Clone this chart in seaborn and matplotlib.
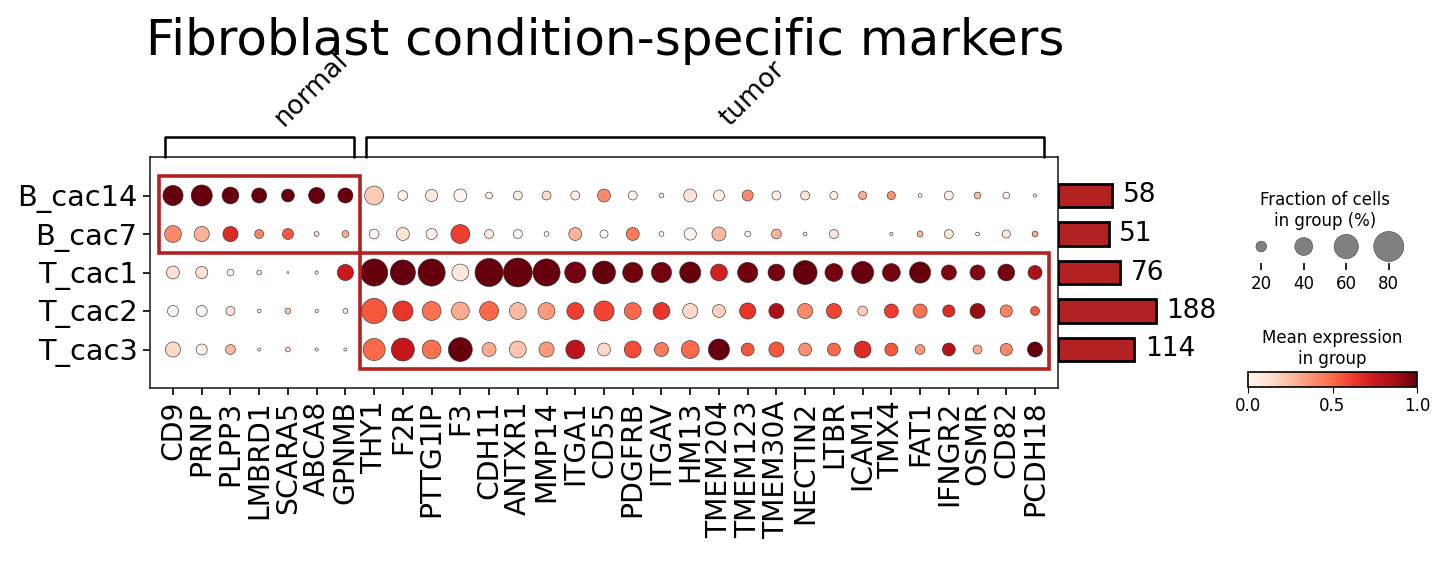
import numpy as np
import pandas as pd
import seaborn as sb
import matplotlib.pyplot as plt
from matplotlib.patches import Rectangle
from matplotlib.cm import ScalarMappable
from matplotlib.colors import Normalize

sb.set_style("white", rc={"text.color": "black", "axes.labelcolor": "black",
                          "xtick.color": "black", "ytick.color": "black",
                          "axes.edgecolor": "black"})
plt.rcParams["font.family"] = ["DejaVu Sans"]

# marker genes, grouped by condition
normal_genes = ["CD9", "PRNP", "PLPP3", "LMBRD1", "SCARA5", "ABCA8", "GPNMB"]
tumor_genes = ["THY1", "F2R", "PTTG1IP", "F3", "CDH11", "ANTXR1", "MMP14", "ITGA1",
               "CD55", "PDGFRB", "ITGAV", "HM13", "TMEM204", "TMEM123", "TMEM30A",
               "NECTIN2", "LTBR", "ICAM1", "TMX4", "FAT1", "IFNGR2", "OSMR", "CD82",
               "PCDH18"]
genes = normal_genes + tumor_genes

groups = ["B_cac14", "B_cac7", "T_cac1", "T_cac2", "T_cac3"]
cell_counts = [58, 51, 76, 188, 114]

# fraction of cells expressing (%) per group
frac_B_cac14 = [47, 50, 37, 32, 26, 35, 32, 43, 18, 24, 26, 11, 16, 16, 16, 26,
                16, 7, 26, 21, 21, 16, 16, 14, 14, 14, 5, 16, 11, 11, 4]
frac_B_cac7 = [37, 32, 32, 16, 21, 7, 11, 18, 26, 21, 43, 16, 16, 7, 26, 14,
               26, 7, 24, 29, 9, 18, 5, 16, 0, 4, 9, 16, 5, 14, 9]
frac_T_cac1 = [26, 24, 11, 7, 2, 4, 35, 70, 63, 70, 37, 73, 76, 70, 50, 56,
               47, 47, 50, 37, 47, 37, 59, 40, 53, 40, 50, 32, 32, 37, 29]
frac_T_cac2 = [21, 21, 16, 5, 9, 4, 7, 63, 47, 43, 40, 43, 37, 37, 37, 47,
               37, 37, 32, 26, 35, 32, 32, 32, 18, 29, 29, 24, 32, 24, 16]
frac_T_cac3 = [32, 21, 18, 4, 7, 4, 4, 53, 56, 43, 59, 29, 37, 32, 43, 26,
               37, 29, 40, 50, 26, 32, 26, 26, 37, 26, 18, 26, 16, 24, 32]

# scaled mean expression (0-1) per group
expr_B_cac14 = [1.0, 1.0, 1.0, 1.0, 1.0, 1.0, 1.0, 0.2, 0.02, 0.08, 0.0, 0.03,
                0.05, 0.15, 0.05, 0.4, 0.0, 0.03, 0.1, 0.03, 0.4, 0.03, 0.1, 0.03,
                0.3, 0.38, 0.0, 0.03, 0.25, 0.03, 0.05]
expr_B_cac7 = [0.4, 0.28, 0.68, 0.42, 0.55, 0.12, 0.3, 0.0, 0.1, 0.03, 0.62, 0.06,
               0.0, 0.0, 0.28, 0.0, 0.45, 0.0, 0.0, 0.25, 0.0, 0.28, 0.0, 0.08,
               0.0, 0.1, 0.25, 0.1, 0.0, 0.08, 0.3]
expr_T_cac1 = [0.12, 0.12, 0.03, 0.1, 0.0, 0.05, 0.75, 1.0, 1.0, 1.0, 0.08, 1.0,
               1.0, 1.0, 0.97, 1.0, 0.98, 0.98, 1.0, 0.72, 0.98, 0.97, 1.0, 0.97,
               1.0, 0.97, 1.0, 0.95, 0.95, 0.97, 0.85]
expr_T_cac2 = [0.0, 0.0, 0.12, 0.05, 0.22, 0.05, 0.05, 0.55, 0.65, 0.48, 0.3, 0.5,
               0.25, 0.35, 0.62, 0.6, 0.5, 0.65, 0.15, 0.18, 0.65, 0.85, 0.4, 0.6,
               0.2, 0.62, 0.48, 0.68, 0.9, 0.42, 0.55]
expr_T_cac3 = [0.15, 0.03, 0.25, 0.0, 0.15, 0.0, 0.0, 0.5, 0.78, 0.48, 1.0, 0.3,
               0.22, 0.35, 0.8, 0.15, 0.58, 0.45, 0.5, 1.0, 0.55, 0.55, 0.38, 0.5,
               0.68, 0.55, 0.35, 0.82, 0.3, 0.4, 1.0]

legend_fracs = [20, 40, 60, 80]

W, H = 1445, 561
MAX_S = 653  # marker area (pt^2) for a fraction of 1.0


def box(l, t, r, b):
    return [l / W, 1 - b / H, (r - l) / W, (b - t) / H]


frac_rows = [frac_B_cac14, frac_B_cac7, frac_T_cac1, frac_T_cac2, frac_T_cac3]
expr_rows = [expr_B_cac14, expr_B_cac7, expr_T_cac1, expr_T_cac2, expr_T_cac3]
records = []
for gi, (fr, ex) in enumerate(zip(frac_rows, expr_rows)):
    for xi in range(len(genes)):
        records.append({"x": xi, "y": gi, "expr": ex[xi],
                        "size": (fr[xi] / 100) ** 1.5})
df = pd.DataFrame(records)

fig = plt.figure(figsize=(W / 100, H / 100), dpi=100)
ax = fig.add_axes(box(150, 157, 1058, 388))
sb.scatterplot(data=df, x="x", y="y", hue="expr", size="size", palette="Reds",
               hue_norm=(0, 1), sizes=(0, MAX_S), size_norm=(0, 1),
               edgecolor="0.15", linewidth=0.4, legend=False, ax=ax)
ax.set_xlim(-0.8, len(genes) - 0.2)
ax.set_ylim(len(groups), -1)
ax.set_xticks(range(len(genes)))
ax.set_xticklabels(genes, rotation=90, fontsize=20.3)
ax.set_yticks(range(len(groups)))
ax.set_yticklabels(groups, fontsize=20.7)
ax.set_xlabel("")
ax.set_ylabel("")
ax.tick_params(length=5, width=1.2, pad=4, bottom=True, left=True,
               direction="out")
for s in ax.spines.values():
    s.set_linewidth(1.2)
    s.set_color("0.15")

# highlight boxes
n_norm = len(normal_genes)
ax.add_patch(Rectangle((-0.5, -0.5), n_norm, 2, fill=False, ec="firebrick",
                       lw=2.6, clip_on=False, zorder=5))
ax.add_patch(Rectangle((n_norm - 0.5, 1.5), len(tumor_genes), 3, fill=False,
                       ec="firebrick", lw=2.6, clip_on=False, zorder=5))

# gene group brackets
gax = fig.add_axes(box(150, 128, 1058, 157), sharex=ax)
gax.set_ylim(0, 1)
gax.axis("off")
for label, start, end in [("normal", 0, n_norm - 1),
                          ("tumor", n_norm, len(genes) - 1)]:
    l, r = start - 0.28, end + 0.3
    gax.plot([l, l, r, r], [0, 0.68, 0.68, 0], color="black", lw=1.8,
             clip_on=False)
    gax.text((l + r) / 2 + 0.35, 0.9, label, rotation=45, ha="left",
             va="bottom", fontsize=19)

# totals bar plot
bax = fig.add_axes(box(1058, 157, 1230, 388))
sb.barplot(x=cell_counts, y=groups, orient="h", color="firebrick",
           saturation=1, edgecolor="black", linewidth=2, width=0.62, ax=bax)
bax.set_xscale("function", functions=(lambda v: np.sqrt(np.clip(v, 0, None)),
                                      lambda v: np.square(v)))
bax.set_xlim(0, 580)
bax.set_ylim(len(groups), -1)
for i, c in enumerate(cell_counts):
    bax.annotate(str(c), xy=(c, i), xytext=(7.5, 0), textcoords="offset points",
                 va="center", ha="left", fontsize=19)
bax.axis("off")

# size legend
sax = fig.add_axes(box(1240, 230, 1410, 263))
sax.scatter(range(len(legend_fracs)), [0] * len(legend_fracs),
            s=MAX_S * (np.array(legend_fracs) / 100) ** 1.5, color="gray",
            edgecolor="0.25", linewidth=0.4, clip_on=False)
sax.set_xlim(-0.5, len(legend_fracs) - 0.5)
sax.set_ylim(-1, 1)
sax.set_xticks(range(len(legend_fracs)))
sax.set_xticklabels([str(f) for f in legend_fracs], fontsize=12)
sax.set_yticks([])
sax.tick_params(axis="x", length=5, width=1.2, bottom=True, direction="out")
for s in sax.spines.values():
    s.set_visible(False)
sax.set_title("Fraction of cells\nin group (%)", fontsize=12, pad=3)

# colorbar
cax = fig.add_axes(box(1248, 372, 1417, 387))
cb = fig.colorbar(ScalarMappable(norm=Normalize(0, 1), cmap="Reds"), cax=cax,
                  orientation="horizontal", ticks=[0, 0.5, 1.0])
cb.ax.tick_params(labelsize=12, length=4, bottom=True, direction="out")
cb.outline.set_linewidth(1.2)
cax.set_title("Mean expression\nin group", fontsize=12, pad=6)

fig.text(605 / W, 1 - 55 / H, "Fibroblast condition-specific markers",
         ha="center", va="baseline", fontsize=36)

fig.savefig("out.png", dpi=100)
